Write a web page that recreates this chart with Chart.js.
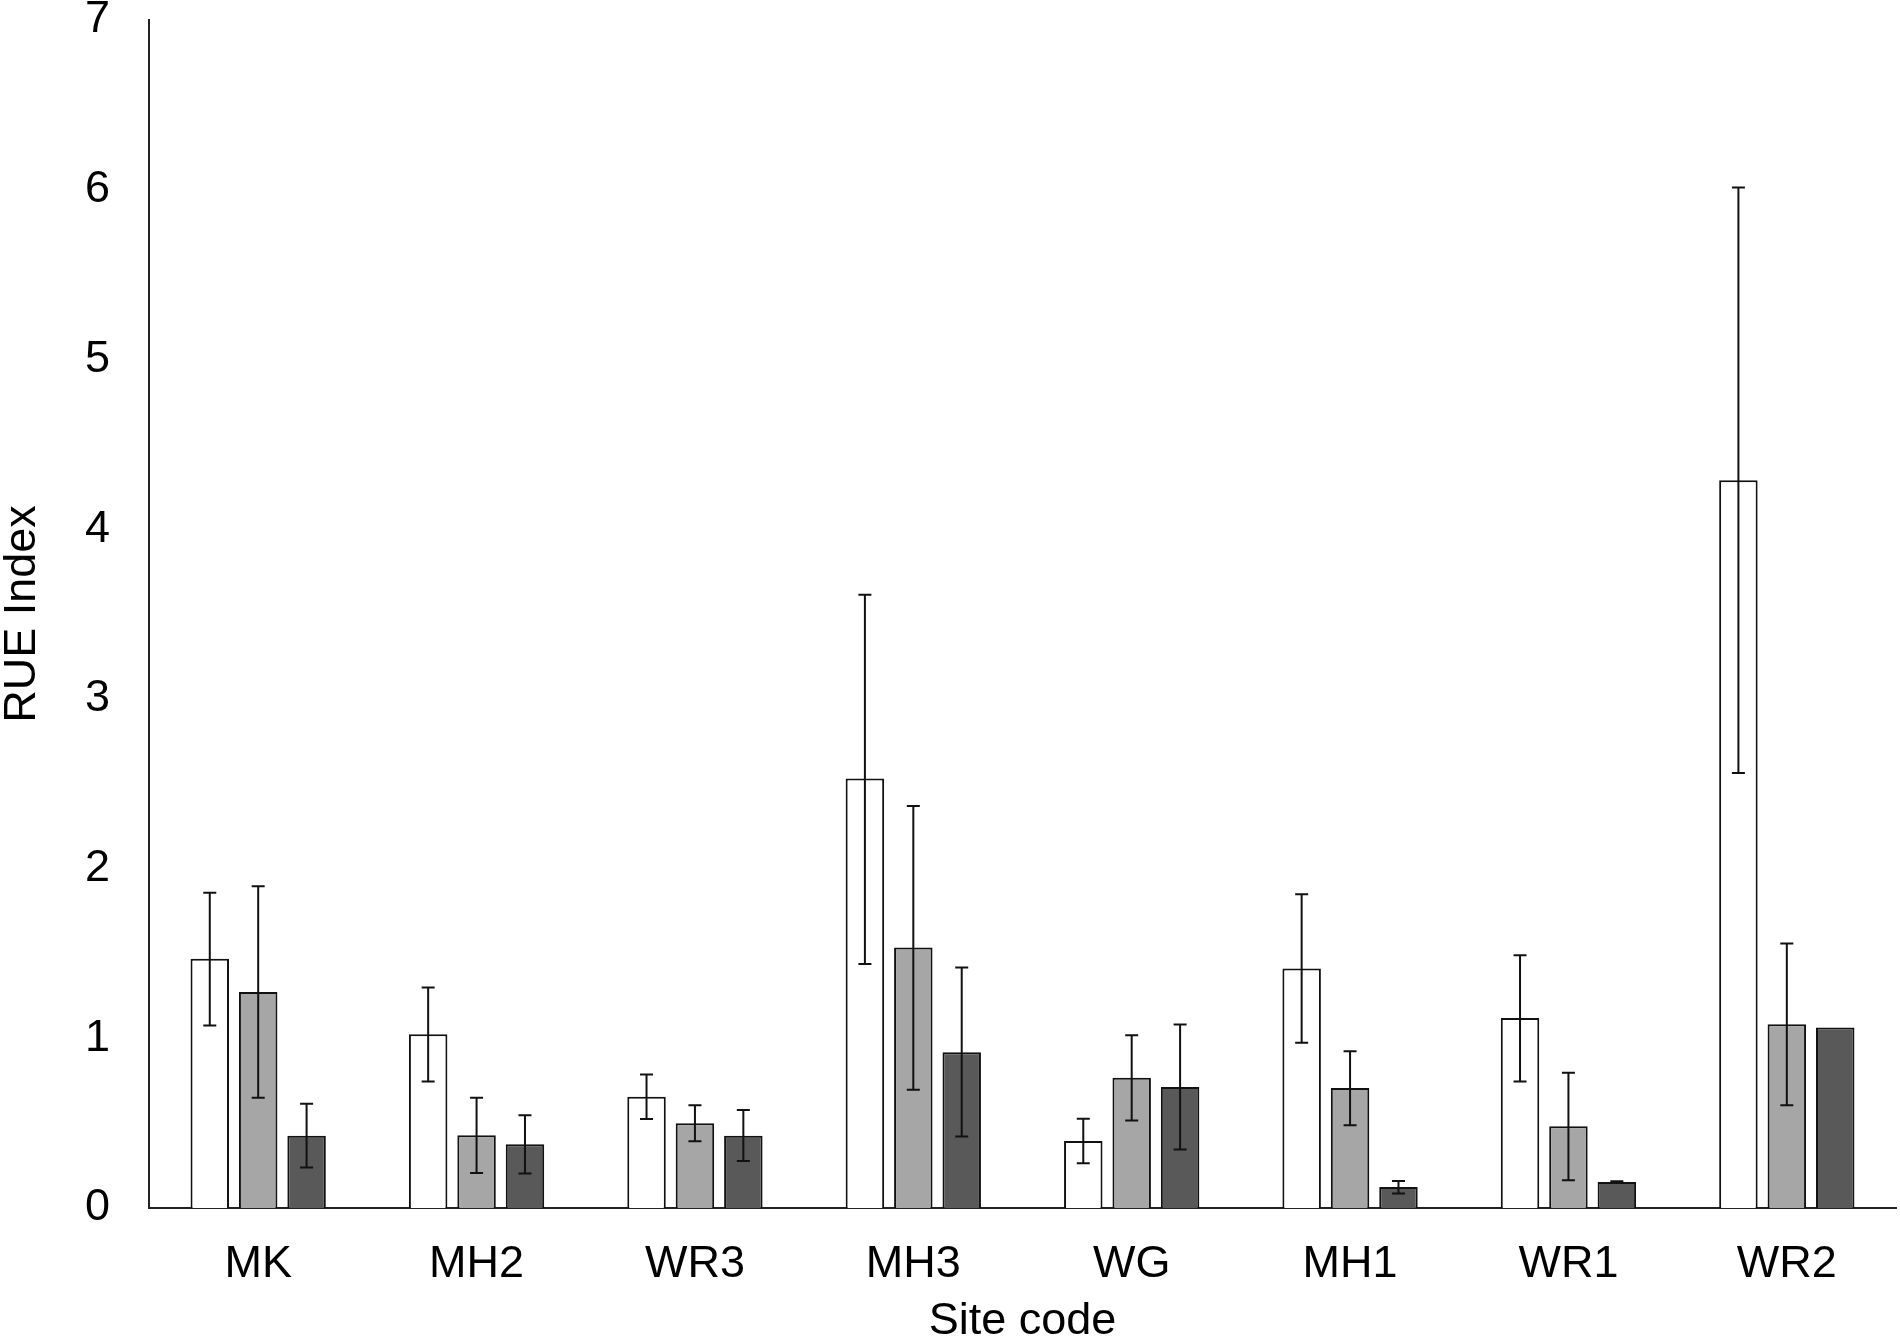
<!DOCTYPE html>
<html>
<head>
<meta charset="utf-8">
<script src="https://cdn.jsdelivr.net/npm/chart.js@4/dist/chart.umd.min.js"></script>
<style>
  html, body { margin: 0; padding: 0; background: #ffffff; }
  #wrap { width: 1900px; height: 1338px; position: relative; }
</style>
</head>
<body>
<div id="wrap"><canvas id="c" width="1900" height="1338"></canvas></div>
<script>
const categories = ["MK", "MH2", "WR3", "MH3", "WG", "MH1", "WR1", "WR2"];
const yTicks = [0, 1, 2, 3, 4, 5, 6, 7];

const series1 = [1.468, 1.024, 0.656, 2.530, 0.395, 1.411, 1.119, 4.288];
const series1Upper = [1.857, 1.299, 0.787, 3.614, 0.526, 1.849, 1.490, 6.013];
const series1Lower = [1.076, 0.746, 0.524, 1.438, 0.263, 0.974, 0.746, 2.563];

const series2 = [1.272, 0.428, 0.499, 1.535, 0.768, 0.707, 0.481, 1.083];
const series2Upper = [1.896, 0.650, 0.605, 2.369, 1.018, 0.923, 0.797, 1.558];
const series2Lower = [0.650, 0.206, 0.393, 0.697, 0.516, 0.487, 0.163, 0.606];

const series3 = [0.426, 0.375, 0.426, 0.918, 0.713, 0.124, 0.153, 1.064];
const series3Upper = [0.615, 0.546, 0.577, 1.417, 1.081, 0.159, 0.157, null];
const series3Lower = [0.238, 0.204, 0.277, 0.421, 0.345, 0.085, 0.149, null];

const FONT = "'Liberation Sans', Arial, sans-serif";

const errorBarPlugin = {
  id: 'errorBars',
  afterDatasetsDraw(chart) {
    const ctx = chart.ctx;
    const yScale = chart.scales.y;
    ctx.save();
    ctx.strokeStyle = '#111111';
    ctx.lineWidth = 2;
    chart.data.datasets.forEach((ds, di) => {
      const meta = chart.getDatasetMeta(di);
      meta.data.forEach((bar, i) => {
        const up = ds.errUpper[i], lo = ds.errLower[i];
        if (up == null || lo == null) return;
        const x = bar.x;
        const yU = yScale.getPixelForValue(up);
        const yL = yScale.getPixelForValue(lo);
        const cap = 6.5;
        ctx.beginPath();
        ctx.moveTo(x, yU); ctx.lineTo(x, yL);
        ctx.moveTo(x - cap, yU); ctx.lineTo(x + cap, yU);
        ctx.moveTo(x - cap, yL); ctx.lineTo(x + cap, yL);
        ctx.stroke();
      });
    });
    ctx.restore();
  }
};

const common = { borderColor: '#111111', borderWidth: 2, barPercentage: 0.795, categoryPercentage: 0.665 };

new Chart(document.getElementById('c'), {
  type: 'bar',
  data: {
    labels: categories,
    datasets: [
      Object.assign({ label: 'A', data: series1, backgroundColor: '#ffffff', errUpper: series1Upper, errLower: series1Lower }, common),
      Object.assign({ label: 'B', data: series2, backgroundColor: '#a6a6a6', errUpper: series2Upper, errLower: series2Lower }, common),
      Object.assign({ label: 'C', data: series3, backgroundColor: '#595959', errUpper: series3Upper, errLower: series3Lower }, common)
    ]
  },
  options: {
    responsive: false,
    animation: false,
    devicePixelRatio: 1,
    layout: { padding: { top: 20, right: 4, left: 0, bottom: 0 } },
    plugins: { legend: { display: false }, tooltip: { enabled: false } },
    scales: {
      x: {
        grid: { display: false, drawTicks: false },
        border: { display: true, color: '#222222', width: 2 },
        ticks: { color: '#000000', font: { family: FONT, size: 45 }, padding: 30, maxRotation: 0 },
        title: { display: true, text: 'Site code', color: '#000000', font: { family: FONT, size: 45, lineHeight: 1 }, padding: { top: 0, bottom: -6 } },
        afterFit(scale) { scale.height = 130; scale.paddingLeft = 0; scale.paddingRight = 0; }
      },
      y: {
        min: 0, max: 7,
        afterBuildTicks(scale) { scale.ticks = yTicks.map(v => ({ value: v })); },
        grid: { display: false, drawTicks: false },
        border: { display: true, color: '#222222', width: 2 },
        ticks: { color: '#000000', font: { family: FONT, size: 45 }, padding: 39 },
        title: { display: true, text: 'RUE Index', color: '#000000', font: { family: FONT, size: 45, lineHeight: 1 }, padding: 0 },
        afterFit(scale) { scale.width = 149; scale.paddingTop = 0; scale.paddingBottom = 0; }
      }
    }
  },
  plugins: [errorBarPlugin]
});
</script>
</body>
</html>
